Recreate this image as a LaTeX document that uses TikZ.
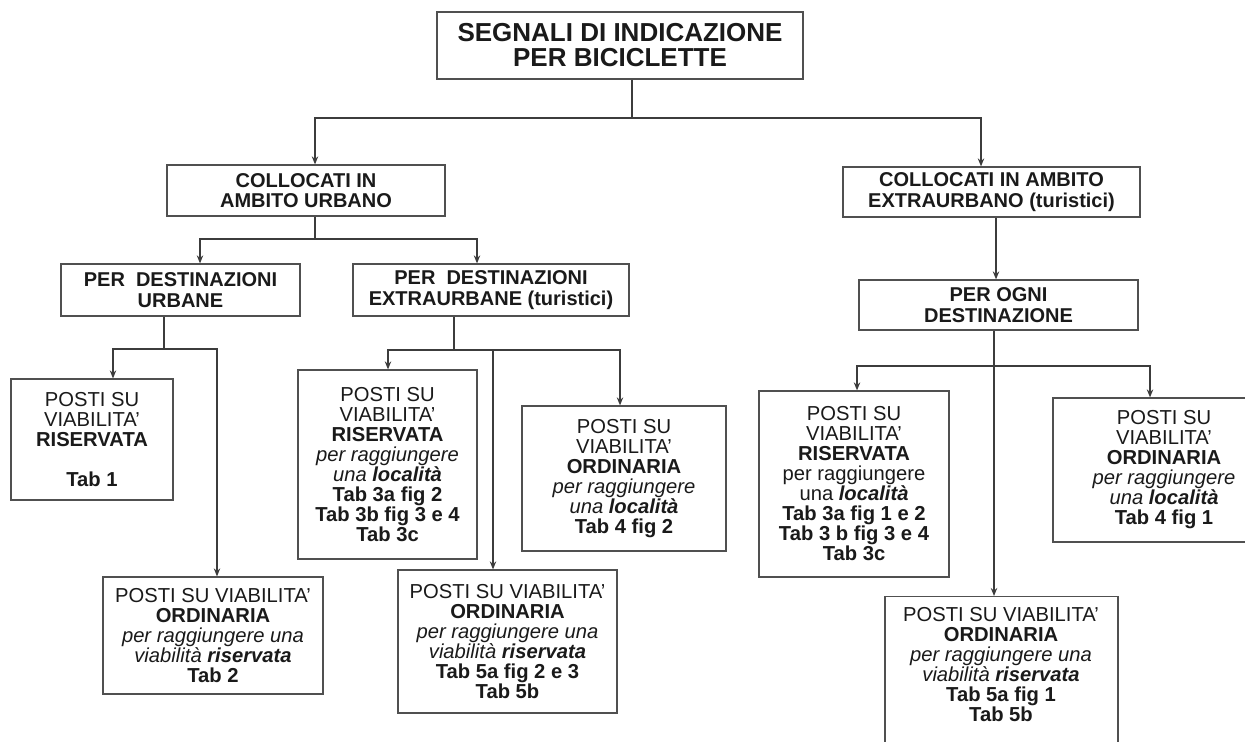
\documentclass[tikz,border=0pt]{standalone}
\usepackage{fontspec}
\setmainfont{Liberation Sans}
\usetikzlibrary{arrows.meta}
\definecolor{ink}{HTML}{1A1A1A}
\definecolor{wirec}{HTML}{3C3C3C}
\definecolor{edgec}{HTML}{505050}
\begin{document}
\begin{tikzpicture}[x=0.5pt,y=-0.5pt,
  box/.style={draw=edgec, line width=0.6pt, fill=white, align=center, text=ink, inner sep=0pt},
  titlebox/.style={box, line width=0.75pt, font=\fontsize{13pt}{12.5pt}\selectfont\bfseries},
  headbox/.style={box, font=\fontsize{10pt}{10.3pt}\selectfont\bfseries},
  leafbox/.style={box, font=\fontsize{10.1pt}{10pt}\selectfont},
  leaftext/.style={align=center, text=ink, inner sep=0pt, font=\fontsize{10.1pt}{10pt}\selectfont},
  wire/.style={draw=wirec, line width=0.75pt},
  arr/.style={wire, -{Stealth[length=4pt,width=3.2pt]}},
]
\useasboundingbox (0,0) rectangle (1245,742);
\clip (0,0) rectangle (1245,742);
\fill[white] (0,0) rectangle (1245,742);

% ---- boxes ----
\node[titlebox, minimum width=183pt, minimum height=33.5pt] (root) at (620,45.5)
  {SEGNALI DI INDICAZIONE\\PER BICICLETTE};

\node[headbox, minimum width=139pt, minimum height=25.5pt] (cu) at (306,190.5)
  {COLLOCATI IN\\AMBITO URBANO};
\node[headbox, minimum width=148.5pt, minimum height=25pt] (ce) at (991.5,192)
  {COLLOCATI IN AMBITO\\EXTRAURBANO (turistici)};

\node[headbox, minimum width=119.5pt, minimum height=26pt] (du) at (180.5,290)
  {PER\ \ DESTINAZIONI\\URBANE};
\node[headbox, minimum width=138pt, minimum height=26pt] (de) at (491,290)
  {PER\ \ DESTINAZIONI\\EXTRAURBANE (turistici)};
\node[headbox, minimum width=139.5pt, minimum height=25pt] (po) at (998.5,305)
  {PER OGNI\\DESTINAZIONE};

\node[leafbox, minimum width=81pt, minimum height=60.5pt] (r1) at (92,439.5)
  {POSTI SU\\VIABILITA’\\\textbf{RISERVATA}\\[10pt]\textbf{Tab 1}};
\node[leafbox, minimum width=110pt, minimum height=58.5pt] (o2) at (213,635.5)
  {POSTI SU VIABILITA’\\\textbf{ORDINARIA}\\\textit{per raggiungere una}\\
   \textit{viabilità \textbf{riservata}}\\\textbf{Tab 2}};

\node[leafbox, minimum width=89.5pt, minimum height=94.5pt] (r3) at (387.5,464.5)
  {POSTI SU\\VIABILITA’\\\textbf{RISERVATA}\\\textit{per raggiungere}\\
   \textit{una \textbf{località}}\\\textbf{Tab 3a fig 2}\\\textbf{Tab 3b fig 3 e 4}\\\textbf{Tab 3c}};
\node[leafbox, minimum width=102pt, minimum height=72.5pt] (o4) at (624,478.5)
  {POSTI SU\\VIABILITA’\\\textbf{ORDINARIA}\\\textit{per raggiungere}\\
   \textit{una \textbf{località}}\\\textbf{Tab 4 fig 2}};
\node[leafbox, minimum width=109.5pt, minimum height=71.5pt] (o5) at (507.5,641.5)
  {POSTI SU VIABILITA’\\\textbf{ORDINARIA}\\\textit{per raggiungere una}\\
   \textit{viabilità \textbf{riservata}}\\\textbf{Tab 5a fig 2 e 3}\\\textbf{Tab 5b}};

\node[leafbox, minimum width=95pt, minimum height=93pt] (r3b) at (854,484)
  {POSTI SU\\VIABILITA’\\\textbf{RISERVATA}\\per raggiungere\\
   una \textit{\textbf{località}}\\\textbf{Tab 3a fig 1 e 2}\\\textbf{Tab 3 b fig 3 e 4}\\\textbf{Tab 3c}};
\node[leafbox, minimum width=111pt, minimum height=72pt] (o4b) at (1164,470)
  {POSTI SU\\VIABILITA’\\\textbf{ORDINARIA}\\\textit{per raggiungere}\\
   \textit{una \textbf{località}}\\\textbf{Tab 4 fig 1}};

% tall box running off the lower edge, with its text set at the top
\node[box, minimum width=116.5pt, minimum height=90pt, anchor=north] (o5frame) at (1001.5,596) {};
\node[leaftext, anchor=north] (o5b) at (1001,607)
  {POSTI SU VIABILITA’\\\textbf{ORDINARIA}\\\textit{per raggiungere una}\\
   \textit{viabilità \textbf{riservata}}\\\textbf{Tab 5a fig 1}\\\textbf{Tab 5b}};

% ---- connectors ----
\coordinate (b0) at (632,118);
\coordinate (b0l) at (315,118);
\coordinate (b0r) at (981,118);
\draw[arr] (root.south -| b0) -- (b0) -- (b0l) -- (b0l |- cu.north);
\draw[arr] (b0) -- (b0r) -- (b0r |- ce.north);

\coordinate (b1) at (315,239);
\coordinate (b1l) at (200,239);
\coordinate (b1r) at (477,239);
\draw[arr] (cu.south -| b1) -- (b1) -- (b1l) -- (b1l |- du.north);
\draw[arr] (b1) -- (b1r) -- (b1r |- de.north);

\coordinate (b2) at (164,349);
\coordinate (b2l) at (113,349);
\coordinate (b2r) at (217,349);
\draw[arr] (du.south -| b2) -- (b2) -- (b2l) -- (b2l |- r1.north);
\draw[arr] (b2) -- (b2r) -- (b2r |- o2.north);

\coordinate (b3) at (454,350);
\coordinate (b3l) at (388,350);
\coordinate (b3m) at (493,350);
\coordinate (b3r) at (620,350);
\draw[arr] (de.south -| b3) -- (b3) -- (b3l) -- (b3l |- r3.north);
\draw[arr] (b3) -- (b3r) -- (b3r |- o4.north);
\draw[arr] (b3m) -- (b3m |- o5.north);

\coordinate (k) at (996,250);
\draw[arr] (ce.south -| k) -- (po.north -| k);

\coordinate (b4) at (994,366);
\coordinate (b4l) at (857,366);
\coordinate (b4r) at (1150,366);
\draw[arr] (po.south -| b4) -- (b4) -- (b4l) -- (b4l |- r3b.north);
\draw[arr] (b4) -- (b4r) -- (b4r |- o4b.north);
\draw[arr] (b4) -- (b4 |- o5frame.north);
\end{tikzpicture}
\end{document}
